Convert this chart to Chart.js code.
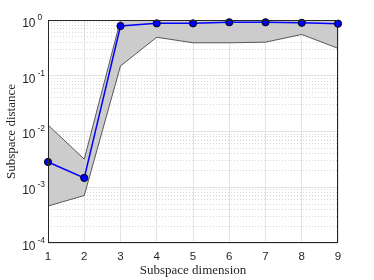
<!DOCTYPE html>
<html>
<head>
<meta charset="utf-8">
<script src="https://cdn.jsdelivr.net/npm/chart.js@4.4.1/dist/chart.umd.min.js"></script>
<style>
  html, body { margin: 0; padding: 0; background: #fff; }
  #wrap { width: 374px; height: 280px; position: relative; }
</style>
</head>
<body>
<div id="wrap"><canvas id="c"></canvas></div>
<script>
// values
const dims = [1, 2, 3, 4, 5, 6, 7, 8, 9];
const meanDist = [0.00284, 0.00147, 0.78, 0.87, 0.87, 0.91, 0.91, 0.89, 0.86];
const upperDist = [0.0131, 0.0032, 1.0, 1.0, 1.0, 1.0, 1.0, 1.0, 1.0];
const lowerDist = [0.00046, 0.00071, 0.15, 0.49, 0.39, 0.39, 0.40, 0.55, 0.31];
const decades = [1e-4, 1e-3, 1e-2, 1e-1, 1];

const tickFont = 'Liberation Sans, Helvetica, Arial, sans-serif';
const labelFont = 'Liberation Serif, DejaVu Serif, serif';

// minor ticks 2..9 inside every decade
const minorTicks = [];
decades.forEach(d => {
    if (d >= 1) return;
    for (let k = 2; k <= 9; k++) minorTicks.push(+(k * d).toPrecision(3));
});

const toPts = arr => dims.map((x, i) => ({ x: x, y: arr[i] }));

// superscript labels for the log axis + box around the axes
const logLabels = {
    id: 'logLabels',
    afterDraw(chart) {
        const ctx = chart.ctx;
        const ys = chart.scales.y;
        const a = chart.chartArea;
        ctx.save();
        ctx.fillStyle = '#262626';
        decades.forEach(d => {
            const py = ys.getPixelForValue(d);
            const e = Math.round(Math.log10(d));
            ctx.font = '12px ' + tickFont;
            ctx.textAlign = 'right';
            ctx.textBaseline = 'middle';
            ctx.fillText('10', 35.5, py + 3.5);
            ctx.font = '8.5px ' + tickFont;
            ctx.textAlign = 'left';
            ctx.fillText(String(e), 37.5, py - 2.5);
        });
        ctx.strokeStyle = '#262626';
        ctx.lineWidth = 1;
        ctx.strokeRect(a.left + 0.5, a.top + 0.5, a.right - a.left - 1, a.bottom - a.top - 1);
        ctx.restore();
    }
};

new Chart(document.getElementById('c'), {
    type: 'line',
    data: {
        datasets: [
            {
                label: 'upper',
                data: toPts(upperDist),
                borderColor: '#333333',
                borderWidth: 0.8,
                backgroundColor: '#cccccc',
                fill: '+1',
                pointRadius: 0,
                tension: 0,
                yAxisID: 'y',
                order: 2
            },
            {
                label: 'lower',
                data: toPts(lowerDist),
                borderColor: '#333333',
                borderWidth: 0.8,
                pointRadius: 0,
                fill: false,
                tension: 0,
                yAxisID: 'y',
                order: 1
            },
            {
                label: 'mean',
                data: toPts(meanDist),
                borderColor: '#0000ff',
                borderWidth: 1.5,
                pointRadius: 3.6,
                pointBackgroundColor: '#0000ff',
                pointBorderColor: '#000000',
                pointBorderWidth: 1,
                fill: false,
                clip: false,
                tension: 0,
                yAxisID: 'y',
                order: 0
            }
        ]
    },
    options: {
        responsive: true,
        maintainAspectRatio: false,
        animation: false,
        layout: { padding: { top: 20, right: 36, left: 0, bottom: 0 } },
        plugins: { legend: { display: false }, tooltip: { enabled: false } },
        scales: {
            x: {
                type: 'linear',
                min: 1,
                max: 9,
                afterBuildTicks: s => { s.ticks = dims.map(v => ({ value: v })); },
                afterFit: s => { s.height = 37; },
                ticks: { font: { family: tickFont, size: 11.5 }, color: '#262626', padding: 7 },
                grid: { color: '#e3e3e3', drawTicks: false },
                border: { display: false },
                title: {
                    display: true,
                    text: 'Subspace dimension',
                    font: { family: labelFont, size: 13 },
                    color: '#262626',
                    padding: { top: 0, bottom: 2 }
                }
            },
            y: {
                type: 'logarithmic',
                min: 1e-4,
                max: 1,
                afterBuildTicks: s => { s.ticks = decades.map(v => ({ value: v })); },
                afterFit: s => { s.width = 48; },
                ticks: { display: false },
                grid: { color: '#e3e3e3', drawTicks: false },
                border: { display: false },
                title: {
                    display: true,
                    text: 'Subspace distance',
                    font: { family: labelFont, size: 13 },
                    color: '#262626',
                    padding: { top: 4, bottom: 0 }
                }
            },
            yMinor: {
                type: 'logarithmic',
                position: 'left',
                min: 1e-4,
                max: 1,
                display: true,
                afterBuildTicks: s => { s.ticks = minorTicks.map(v => ({ value: v })); },
                afterFit: s => { s.width = 0; },
                ticks: { display: false },
                grid: { color: '#d6d6d6', drawTicks: false },
                border: { display: false, dash: [1, 2] }
            }
        }
    },
    plugins: [logLabels]
});
</script>
</body>
</html>
